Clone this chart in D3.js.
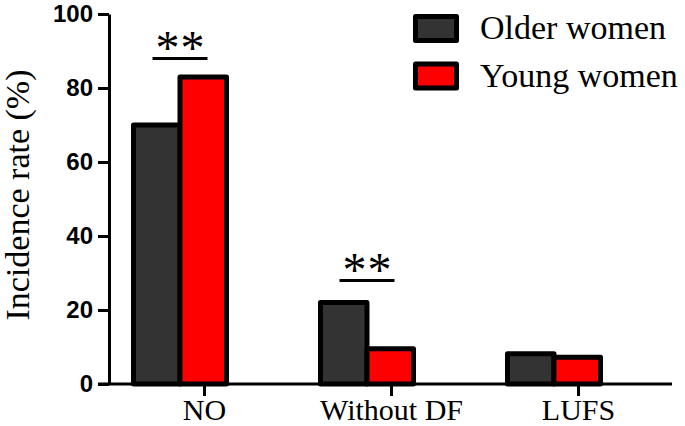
<!DOCTYPE html>
<html>
<head>
<meta charset="utf-8">
<script src="https://cdn.jsdelivr.net/npm/d3@7"></script>
<style>
  html, body { margin: 0; padding: 0; background: #fff; }
  svg { display: block; }
</style>
</head>
<body>
<svg id="chart" width="685" height="426"></svg>
<script>
// ---- data ----
const categories = ["NO", "Without DF", "LUFS"];
const series = ["Older women", "Young women"];
const olderWomen = [70, 22, 8.2];
const youngWomen = [83, 9.5, 7.2];
const yTicks = [0, 20, 40, 60, 80, 100];
const significance = [
  { category: "NO", level: 88, label: "**" },
  { category: "Without DF", level: 28, label: "**" }
];
const colors = ["#333333", "#ff0000"];

// ---- layout ----
const svg = d3.select("#chart");
const y = d3.scaleLinear().domain([0, 100]).range([384, 14]);
const x0 = d3.scaleBand().domain(categories).range([86.5, 647.5]).padding(0);
const x1 = d3.scaleBand().domain(series).range([-46.5, 46.5]).padding(0);
const center = c => x0(c) + x0.bandwidth() / 2;
const tickShift = 24;
const xTickScale = d3.scalePoint().domain(categories)
  .range([center(categories[0]) + tickShift, center(categories[categories.length - 1]) + tickShift]);

const values = [olderWomen, youngWomen];
const rows = [];
categories.forEach((c, i) => series.forEach((s, j) => rows.push({ c, s, j, v: values[j][i] })));

// bars
svg.append("g").selectAll("rect").data(rows).join("rect")
  .attr("x", d => center(d.c) + x1(d.s))
  .attr("width", x1.bandwidth())
  .attr("y", d => y(d.v))
  .attr("height", d => y(0) - y(d.v))
  .attr("fill", d => colors[d.j])
  .attr("stroke", "#000")
  .attr("stroke-width", 5)
  .attr("stroke-linejoin", "round");

// y axis
const yAxis = svg.append("g")
  .attr("transform", "translate(109,0)")
  .call(d3.axisLeft(y).tickValues(yTicks).tickSize(11).tickSizeOuter(0).tickPadding(5));
yAxis.select(".domain").attr("stroke-width", 3).attr("stroke", "#000");
yAxis.selectAll(".tick line").attr("stroke-width", 3).attr("stroke", "#000");
yAxis.selectAll(".tick text")
  .attr("font-family", "'Liberation Sans', Arial, sans-serif")
  .attr("font-weight", "bold")
  .attr("font-size", 24)
  .attr("fill", "#000");

// x axis
const xAxis = svg.append("g")
  .attr("transform", `translate(0,${y(0)})`)
  .call(d3.axisBottom(xTickScale).tickSize(12).tickSizeOuter(0));
xAxis.select(".domain").remove();
xAxis.append("line")
  .attr("x1", 98).attr("x2", 672).attr("y1", 0).attr("y2", 0)
  .attr("stroke", "#000").attr("stroke-width", 3);
xAxis.selectAll(".tick line").attr("stroke-width", 3).attr("stroke", "#000");
xAxis.selectAll(".tick text")
  .attr("font-family", "'Liberation Serif', 'Times New Roman', serif")
  .attr("font-size", 30)
  .attr("fill", "#000")
  .attr("y", 36)
  .attr("dy", 0);

// y axis title
svg.append("text")
  .attr("transform", "translate(29,195) rotate(-90)")
  .attr("text-anchor", "middle")
  .attr("font-family", "'Liberation Serif', 'Times New Roman', serif")
  .attr("font-size", 34)
  .attr("fill", "#000")
  .text("Incidence rate (%)");

// significance markers
const sig = svg.append("g");
significance.forEach(s => {
  const c = center(s.category);
  sig.append("line")
    .attr("x1", c - 27.5).attr("x2", c + 27.5)
    .attr("y1", y(s.level)).attr("y2", y(s.level))
    .attr("stroke", "#000").attr("stroke-width", 3);
  [-12.5, 12.5].forEach(dx => {
    sig.append("text")
      .attr("x", c + dx)
      .attr("y", y(s.level) + 6)
      .attr("text-anchor", "middle")
      .attr("font-family", "'Liberation Serif', 'Times New Roman', serif")
      .attr("font-size", 48)
      .attr("fill", "#000")
      .text("*");
  });
});

// legend
const legend = svg.append("g");
series.forEach((s, j) => {
  const g = legend.append("g").attr("transform", `translate(415.5,${16.5 + j * 47.5})`);
  g.append("rect")
    .attr("width", 41).attr("height", 24)
    .attr("fill", colors[j]).attr("stroke", "#000").attr("stroke-width", 5)
    .attr("stroke-linejoin", "round");
  g.append("text")
    .attr("x", 64.5).attr("y", 22.5)
    .attr("font-family", "'Liberation Serif', 'Times New Roman', serif")
    .attr("font-size", 34)
    .attr("fill", "#000")
    .text(s);
});
</script>
</body>
</html>
